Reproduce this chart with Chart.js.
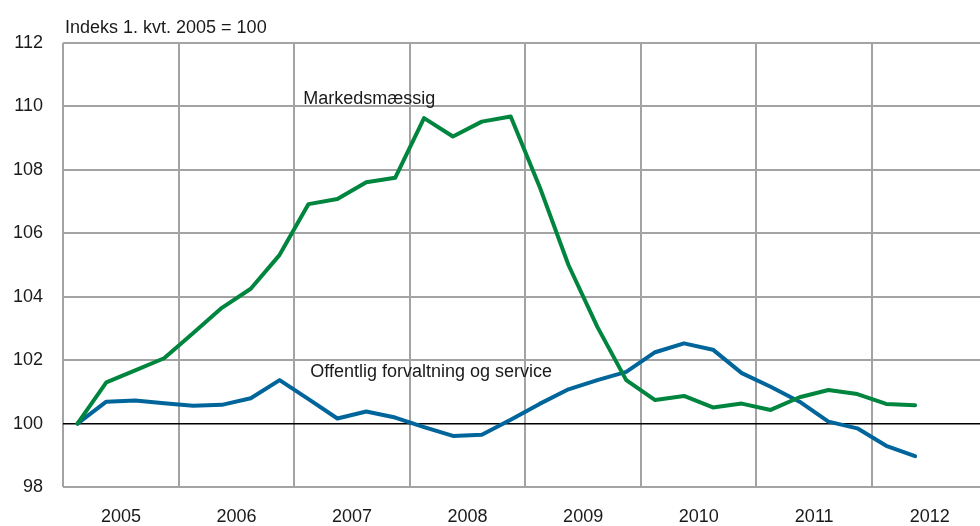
<!DOCTYPE html>
<html lang="no">
<head>
    <meta charset="UTF-8">
    <title>Indeks 1. kvt. 2005 = 100</title>
    <style>
        body {
            margin: 0;
            padding: 0;
            background: #ffffff;
        }
        #wrap {
            width: 980px;
            height: 526px;
        }
    </style>
</head>
<body>
    <div id="wrap">
        <canvas id="indexChart" width="980" height="526"></canvas>
    </div>

    <script src="https://cdn.jsdelivr.net/npm/chart.js"></script>
    <script>
        // quarters 2005K1 - 2012K2
        const quarters = [
            '2005K1', '2005K2', '2005K3', '2005K4',
            '2006K1', '2006K2', '2006K3', '2006K4',
            '2007K1', '2007K2', '2007K3', '2007K4',
            '2008K1', '2008K2', '2008K3', '2008K4',
            '2009K1', '2009K2', '2009K3', '2009K4',
            '2010K1', '2010K2', '2010K3', '2010K4',
            '2011K1', '2011K2', '2011K3', '2011K4',
            '2012K1', '2012K2'
        ];
        const markedsmessig = [
            100.00, 101.30, 101.68, 102.06, 102.85, 103.65, 104.25, 105.32,
            106.92, 107.08, 107.61, 107.75, 109.63, 109.05, 109.52, 109.68,
            107.47, 105.00, 103.05, 101.37, 100.74, 100.87, 100.51, 100.63,
            100.43, 100.83, 101.06, 100.93, 100.62, 100.58
        ];
        const offentlig = [
            100.00, 100.69, 100.73, 100.64, 100.56, 100.59, 100.80, 101.37,
            100.77, 100.16, 100.38, 100.19, 99.89, 99.61, 99.65, 100.12,
            100.62, 101.08, 101.37, 101.63, 102.25, 102.53, 102.33, 101.59,
            101.16, 100.69, 100.06, 99.85, 99.30, 98.97
        ];
        const years = [2005, 2006, 2007, 2008, 2009, 2010, 2011, 2012];
        const yTicks = [98, 100, 102, 104, 106, 108, 110, 112];

        const unitTitle = 'Indeks 1. kvt. 2005 = 100';
        const seriesNames = ['Markedsmæssig', 'Offentlig forvaltning og service'];

        const FONT = "'Liberation Sans', Arial, sans-serif";
        const GREEN = '#00853f';
        const BLUE = '#00659a';

        // quarter label -> position on a year axis (middle of the quarter)
        function quarterX(label) {
            const y = parseInt(label.slice(0, 4), 10);
            const q = parseInt(label.slice(5), 10);
            return y + (q - 0.5) / 4;
        }

        function toPoints(values) {
            return values.map((v, i) => ({ x: quarterX(quarters[i]), y: v }));
        }

        // text that is not part of an axis: unit title and series names
        const textPlugin = {
            id: 'texts',
            afterDraw(chart) {
                const ctx = chart.ctx;
                const xs = chart.scales.x;
                const ys = chart.scales.y;
                ctx.save();
                ctx.font = '18px ' + FONT;
                ctx.fillStyle = '#1a1a1a';
                ctx.textAlign = 'left';
                ctx.textBaseline = 'alphabetic';
                ctx.fillText(unitTitle, chart.chartArea.left + 2, 33);

                ctx.textBaseline = 'middle';
                ctx.fillText(seriesNames[0], xs.getPixelForValue(2007.08), ys.getPixelForValue(110.23));
                ctx.fillText(seriesNames[1], xs.getPixelForValue(2007.14), ys.getPixelForValue(101.62));
                ctx.restore();
            }
        };

        new Chart(document.getElementById('indexChart'), {
            type: 'line',
            data: {
                datasets: [{
                    label: seriesNames[0],
                    data: toPoints(markedsmessig),
                    borderColor: GREEN,
                    borderWidth: 4,
                    borderCapStyle: 'round',
                    borderJoinStyle: 'round',
                    pointRadius: 0,
                    tension: 0,
                    fill: false
                }, {
                    label: seriesNames[1],
                    data: toPoints(offentlig),
                    borderColor: BLUE,
                    borderWidth: 4,
                    borderCapStyle: 'round',
                    borderJoinStyle: 'round',
                    pointRadius: 0,
                    tension: 0,
                    fill: false
                }]
            },
            options: {
                responsive: false,
                animation: false,
                layout: { padding: { top: 43, left: 0, right: 0, bottom: 0 } },
                plugins: {
                    legend: { display: false },
                    tooltip: { enabled: false }
                },
                scales: {
                    x: {
                        type: 'linear',
                        min: 2005,
                        max: 2012.937,
                        afterBuildTicks: (scale) => {
                            scale.ticks = years.map(v => ({ value: v }));
                        },
                        afterFit: (scale) => { scale.height = 39; },
                        border: { display: false },
                        grid: {
                            color: '#a3a3a3',
                            lineWidth: 2,
                            drawTicks: false
                        },
                        ticks: {
                            padding: 19,
                            labelOffset: 58,
                            maxRotation: 0,
                            autoSkip: false,
                            color: '#1a1a1a',
                            font: { family: FONT, size: 18 },
                            callback: (v) => String(v)
                        }
                    },
                    y: {
                        min: 98,
                        max: 112,
                        afterBuildTicks: (scale) => {
                            scale.ticks = yTicks.map(v => ({ value: v }));
                        },
                        afterFit: (scale) => { scale.width = 63; },
                        border: { display: false },
                        grid: {
                            color: (c) => c.tick && c.tick.value === 100 ? '#000000' : '#a3a3a3',
                            lineWidth: (c) => c.tick && c.tick.value === 100 ? 1.6 : 2,
                            drawTicks: false
                        },
                        ticks: {
                            padding: 20,
                            color: '#1a1a1a',
                            font: { family: FONT, size: 18 }
                        }
                    }
                }
            },
            plugins: [textPlugin]
        });
    </script>
</body>
</html>
